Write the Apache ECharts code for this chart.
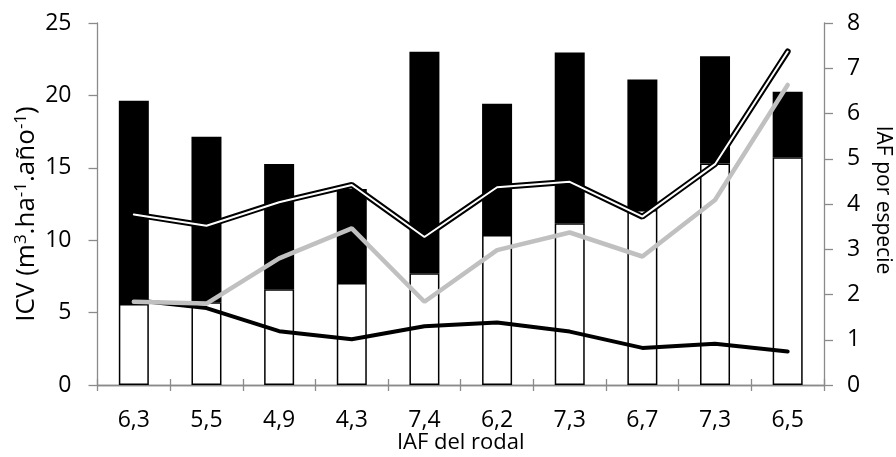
<!DOCTYPE html>
<html>
<head>
<meta charset="utf-8">
<script src="https://cdn.jsdelivr.net/npm/echarts@6/dist/echarts.min.js"></script>
<style>html,body{margin:0;padding:0;background:#fff;}#c{width:896px;height:457px;}</style>
</head>
<body>
<div id="c"></div>
<script>
// Categories: IAF del rodal
const categories = ['6,3','5,5','4,9','4,3','7,4','6,2','7,3','6,7','7,3','6,5'];
// ICV stacked segments (left axis)
const icvLower = [5.6, 5.72, 6.62, 7.04, 7.72, 10.36, 11.17, 12.09, 15.3, 15.73];
const icvUpper = [14.03, 11.43, 8.64, 6.5, 15.3, 9.07, 11.8, 9.0, 7.4, 4.53];
// IAF por especie (right axis)
const iafBlack = [1.88, 1.70, 1.19, 1.01, 1.30, 1.38, 1.18, 0.82, 0.91, 0.74];
const iafGray = [1.84, 1.80, 2.80, 3.46, 1.84, 2.98, 3.37, 2.84, 4.09, 6.63];
const iafDouble = [3.77, 3.52, 4.04, 4.42, 3.27, 4.37, 4.49, 3.72, 4.88, 7.37];
const leftTicks = {min: 0, max: 25, interval: 5};
const rightTicks = {min: 0, max: 8, interval: 1};

const FONT = 'Open Sans';
const axisGray = '#8a8a8a';
const chart = echarts.init(document.getElementById('c'), null, {renderer: 'canvas'});
chart.setOption({
  animation: false,
  backgroundColor: '#fff',
  textStyle: {fontFamily: FONT, color: '#000'},
  grid: {left: 97.5, right: 72, top: 23, bottom: 72, containLabel: false, outerBoundsMode: 'none'},
  xAxis: [{
    type: 'category', data: categories, position: 'bottom',
    axisLine: {lineStyle: {color: axisGray, width: 1.3}},
    axisTick: {show: true, length: 6, lineStyle: {color: axisGray, width: 1.3}},
    axisLabel: {color: '#000', fontSize: 23, fontFamily: FONT, margin: 24},
    name: 'IAF del rodal', nameLocation: 'middle', nameGap: 47, nameMoveOverlap: false,
    nameTextStyle: {color: '#000', fontSize: 22, fontFamily: FONT}
  }, {
    type: 'category', data: categories, position: 'top',
    axisLine: {lineStyle: {color: axisGray, width: 1.3}},
    axisTick: {show: true, length: 6, lineStyle: {color: axisGray, width: 1.3}},
    axisLabel: {show: false}
  }],
  yAxis: [{
    type: 'value', position: 'left', min: leftTicks.min, max: leftTicks.max, interval: leftTicks.interval,
    splitLine: {show: false},
    axisLine: {show: true, lineStyle: {color: axisGray, width: 1.3}},
    axisTick: {show: true, length: 9, lineStyle: {color: axisGray, width: 1.3}},
    axisLabel: {color: '#000', fontSize: 23, fontFamily: FONT, margin: 26},
    name: 'ICV (m{sup|3}.ha{sup|-1}.año{sup|-1})', nameLocation: 'middle', nameGap: 56, nameRotate: 90,
    nameMoveOverlap: false,
    nameTextStyle: {color: '#000', fontSize: 26, fontFamily: FONT, padding: [0, 20, 0, 0],
      rich: {sup: {fontSize: 17, fontFamily: FONT, color: '#000', verticalAlign: 'top', padding: [0, 0, 12, 0]}}}
  }, {
    type: 'value', position: 'right', min: rightTicks.min, max: rightTicks.max, interval: rightTicks.interval,
    splitLine: {show: false},
    axisLine: {show: true, lineStyle: {color: axisGray, width: 1.3}},
    axisTick: {show: true, length: 9, lineStyle: {color: axisGray, width: 1.3}},
    axisLabel: {color: '#000', fontSize: 23, fontFamily: FONT, margin: 23},
    name: 'IAF por especie', nameLocation: 'middle', nameGap: 48, nameRotate: -90, nameMoveOverlap: false,
    nameTextStyle: {color: '#000', fontSize: 21, fontFamily: FONT, padding: [0, 8, 0, 0]}
  }],
  series: [
    {type: 'bar', stack: 'icv', xAxisIndex: 0, yAxisIndex: 0, data: icvLower, barWidth: 30,
      itemStyle: {color: '#fff', borderColor: '#000', borderWidth: 1.5}},
    {type: 'bar', stack: 'icv', xAxisIndex: 0, yAxisIndex: 0, data: icvUpper, barWidth: 30,
      itemStyle: {color: '#000', borderColor: '#000', borderWidth: 0}},
    {type: 'line', xAxisIndex: 0, yAxisIndex: 1, data: iafBlack, showSymbol: false, symbol: 'none',
      lineStyle: {color: '#000', width: 4, cap: 'round'}},
    {type: 'line', xAxisIndex: 0, yAxisIndex: 1, data: iafGray, showSymbol: false, symbol: 'none',
      lineStyle: {color: '#c0c0c0', width: 4.5, cap: 'round'}},
    {type: 'line', xAxisIndex: 0, yAxisIndex: 1, data: iafDouble, showSymbol: false, symbol: 'none',
      lineStyle: {color: '#000', width: 6, cap: 'round'}},
    {type: 'line', xAxisIndex: 0, yAxisIndex: 1, data: iafDouble, showSymbol: false, symbol: 'none',
      lineStyle: {color: '#fff', width: 2, cap: 'round'}}
  ]
});
</script>
</body>
</html>
